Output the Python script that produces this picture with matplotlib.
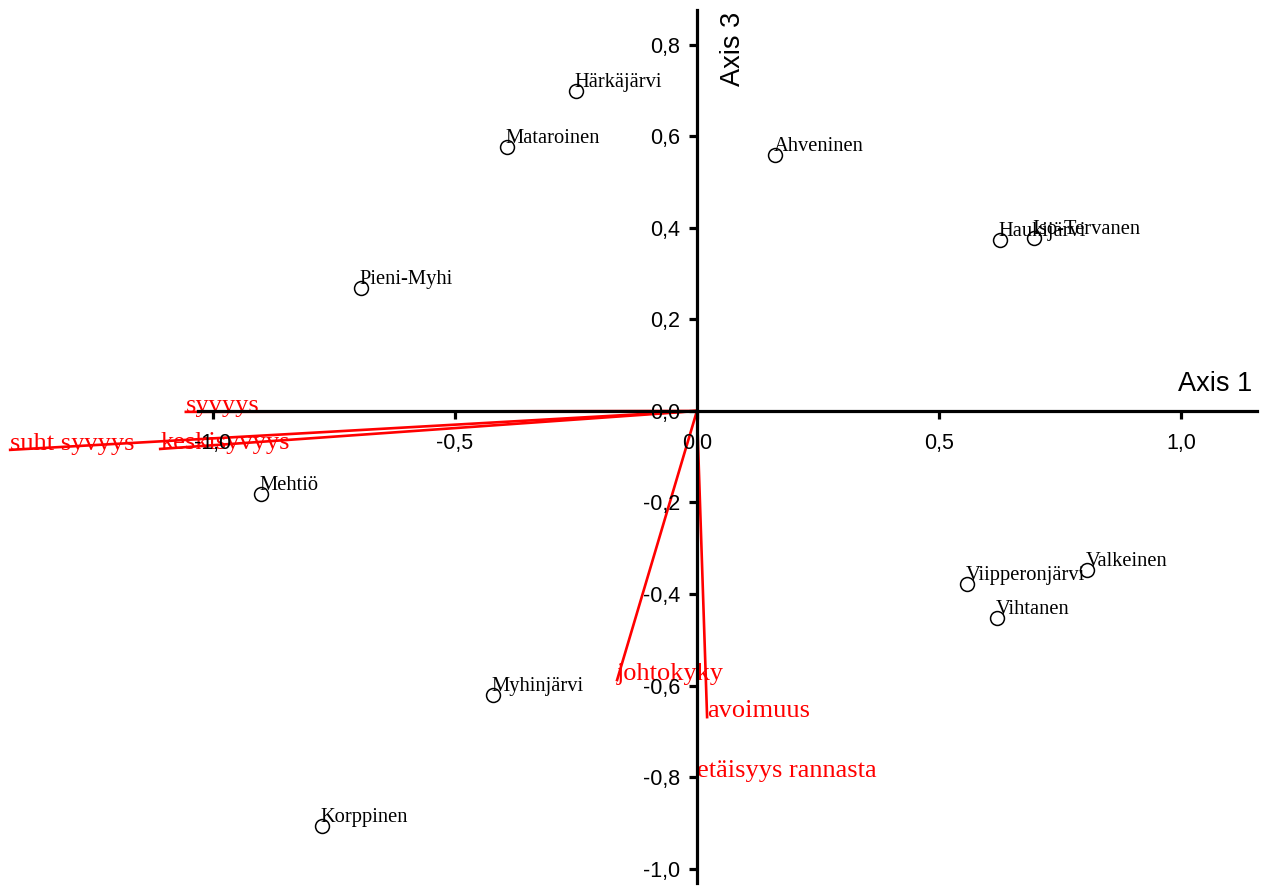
import numpy as np
import matplotlib
matplotlib.use("Agg")
import matplotlib.pyplot as plt
from matplotlib.ticker import FuncFormatter

# site scores (axis 1, axis 3)
sites = ["Härkäjärvi", "Mataroinen", "Ahveninen", "Haukijärvi", "Iso-Tervanen",
         "Pieni-Myhi", "Mehtiö", "Myhinjärvi", "Korppinen", "Viipperonjärvi",
         "Valkeinen", "Vihtanen"]
site_x = [-0.250, -0.393, 0.161, 0.626, 0.696, -0.694, -0.901, -0.421, -0.775, 0.558, 0.806, 0.620]
site_y = [0.699, 0.577, 0.560, 0.374, 0.378, 0.269, -0.181, -0.621, -0.907, -0.378, -0.348, -0.452]

# environmental vectors
env = ["syvyys", "suht syvyys", "keskisyvyys", "johtokyky", "avoimuus", "etäisyys rannasta"]
env_x = [-1.056, -1.419, -1.109, -0.165, 0.021, 0.000]
env_y = [-0.002, -0.085, -0.083, -0.588, -0.669, -0.800]

xticks = [-1.0, -0.5, 0.0, 0.5, 1.0]
yticks = [-1.0, -0.8, -0.6, -0.4, -0.2, 0.0, 0.2, 0.4, 0.6, 0.8]

fig = plt.figure(figsize=(12.69, 8.86), dpi=100)
ax = fig.add_axes([0, 0, 1, 1])
ax.set_xlim(-1.440, 1.182)
ax.set_ylim(-1.038, 0.898)
ax.patch.set_alpha(0)

# vectors
for name, x, y in zip(env, env_x, env_y):
    ax.plot([0, x], [0, y], color="red", lw=1.9, zorder=1)
    ax.text(x, y, name, color="red", fontsize=19, family="Liberation Serif",
            ha="left", va="baseline", zorder=1)

# sites
ax.plot(site_x, site_y, "o", mfc="white", mec="black", ms=10, mew=1.1, zorder=4)
for name, x, y in zip(sites, site_x, site_y):
    ax.annotate(name, (x, y), xytext=(-1, 3), textcoords="offset points",
                fontsize=14.8, family="Liberation Serif", ha="left", va="baseline", zorder=4)

# axes through origin
for s in ["top", "right"]:
    ax.spines[s].set_visible(False)
ax.spines["left"].set_position(("data", 0))
ax.spines["bottom"].set_position(("data", 0))
ax.spines["left"].set_bounds(-1.032, 0.877)
ax.spines["bottom"].set_bounds(-1.031, 1.157)
for s in ["left", "bottom"]:
    ax.spines[s].set_linewidth(2.3)
    ax.spines[s].set_zorder(3)

ax.set_xticks(xticks)
ax.set_yticks(yticks)
fmt = FuncFormatter(lambda v, p: f"{v:.1f}".replace(".", ",").replace("-0,0", "0,0"))
ax.xaxis.set_major_formatter(fmt)
ax.yaxis.set_major_formatter(fmt)
ax.tick_params(axis="both", length=6, width=2.3, labelsize=15.5)
ax.tick_params(axis="x", pad=10)
ax.tick_params(axis="y", pad=6)
for lab in ax.get_xticklabels() + ax.get_yticklabels():
    lab.set_family("Liberation Sans")
    lab.set_zorder(5)

ax.text(1.147, 0.03, "Axis 1", fontsize=19.5, family="Liberation Sans", ha="right", va="bottom")
ax.text(0.048, 0.872, "Axis 3", fontsize=19.5, family="Liberation Sans", rotation=90,
        ha="left", va="top")

fig.savefig("out.png", dpi=100)
